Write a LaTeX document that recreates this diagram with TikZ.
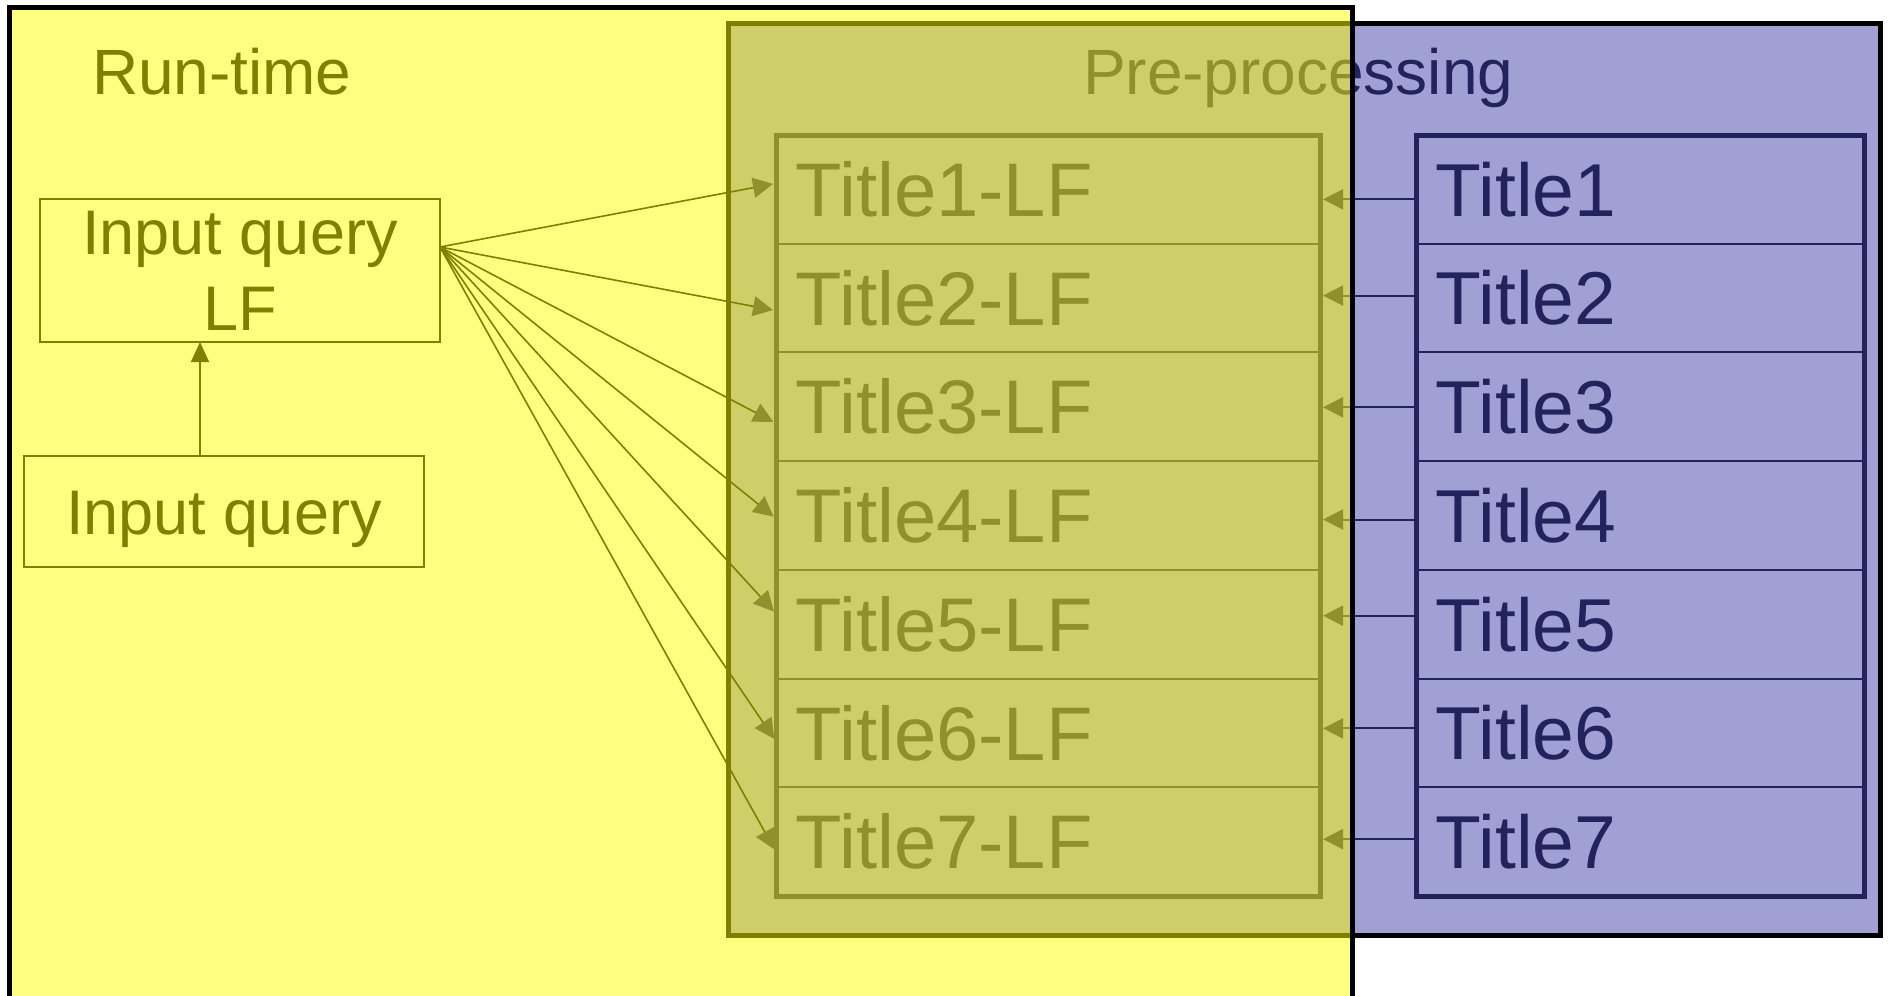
\documentclass[tikz,border=0pt]{standalone}
\usepackage{fontspec}
\setmainfont{Liberation Sans}
\usetikzlibrary{arrows.meta,calc}
\definecolor{bluefill}{RGB}{160,160,212}
\definecolor{navy}{RGB}{34,34,92}
\definecolor{runyellow}{RGB}{255,255,0}
\begin{document}
\begin{tikzpicture}[x=1pt,y=-1pt,
  every node/.style={outer sep=0pt},
  frame/.style={draw=black,line width=5pt,inner sep=0pt,anchor=north west},
  label/.style={anchor=base west,inner sep=0pt,font=\fontsize{64}{77}\selectfont},
  qbox/.style={draw=black,line width=1.8pt,align=center,inner sep=0pt,font=\fontsize{63}{76}\selectfont},
  row/.style={draw=navy,line width=2pt,text=navy,anchor=north west,minimum height=108.714pt,
    inner xsep=19.5pt,inner ysep=0pt,align=left,text depth=0pt},
  lfrow/.style={row,text width=505pt,font=\fontsize{76}{91}\selectfont,text height=54.4pt},
  titlerow/.style={row,text width=409pt,font=\fontsize{75}{90}\selectfont,text height=53.7pt},
  outline/.style={draw=navy,line width=5pt},
  feed/.style={navy,line width=2pt,shorten >=3pt,-{Triangle[length=20pt,width=20pt]}},
  query/.style={black,line width=1.6pt,shorten >=3pt,-{Triangle[length=20pt,width=20pt,color=navy]}},
  upward/.style={black,line width=1.6pt,-{Triangle[length=20pt,width=18pt]}},
]
\useasboundingbox (0,0) rectangle (1891,996);
\clip (0,0) rectangle (1891,996);
\fill[white] (0,0) rectangle (1891,996);

% Pre-processing container
\node[frame,fill=bluefill,minimum width=1152pt,minimum height=912pt] (pre) at (728,23) {};
\node[label,text=navy] (prelbl) at (1083,94) {Pre-processing};

% rows
\foreach \i in {1,...,7}{
  \node[lfrow] (lf\i) at (776,{135+(\i-1)*108.714}) {Title\i-LF};
  \node[titlerow] (t\i) at (1416,{135+(\i-1)*108.714}) {Title\i};
}
\draw[outline] (lf1.north west) rectangle (lf7.south east);
\draw[outline] (t1.north west) rectangle (t7.south east);

% Title -> Title-LF
\foreach \i/\s in {1/-10,2/2.5,3/-0.5,4/-4,5/8.5,6/4.5,7/2.5}{
  \draw[feed] ([yshift=\s pt]t\i.west) -- ([yshift=\s pt]lf\i.east);
}

% Run-time part
\node[qbox,minimum width=400pt,minimum height=143pt] (iqlf) at (240,270.5) {Input query\\LF};
\node[qbox,minimum width=400pt,minimum height=111pt,text height=45pt,text depth=0pt] (iq) at (224,511.5) {Input query};
\draw[upward] ([xshift=-24pt]iq.north) -- ([xshift=-40pt]iqlf.south);
\coordinate (src) at ([yshift=23.5pt]iqlf.east);
\foreach \i/\s in {1/6,2/-12.5,3/-16.5,4/-3,5/10.5,6/-8.5,7/-10.5}{
  \draw[query] (src) -- ([yshift=\s pt]lf\i.west);
}
\node[label,text=black] (runlbl) at (92,94) {Run-time};

% Run-time container (translucent yellow on top)
\node[frame,fill=runyellow,fill opacity=0.5,minimum width=1343pt,minimum height=1010pt] (run) at (9,7) {};
\end{tikzpicture}
\end{document}
